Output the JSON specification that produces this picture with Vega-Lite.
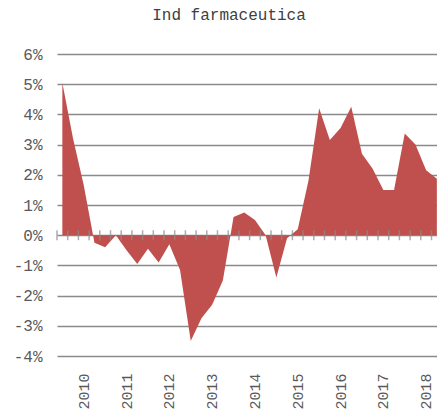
{
  "$schema": "https://vega.github.io/schema/vega-lite/v6.json",
  "width": 380,
  "height": 302,
  "autosize": {"type": "none"},
  "padding": {"left": 57, "top": 54, "right": 0, "bottom": 62},
  "background": "white",
  "title": {"text": "Ind farmaceutica", "font": "Liberation Mono", "fontSize": 16, "fontWeight": "normal", "color": "#404040", "offset": 23, "dx": -18},
  "config": {"view": {"stroke": null}},
  "data": {"values": [
    {"quarter": "2010Q1", "value": 5.05},
    {"quarter": "2010Q2", "value": 3.2},
    {"quarter": "2010Q3", "value": 1.65},
    {"quarter": "2010Q4", "value": -0.25},
    {"quarter": "2011Q1", "value": -0.4},
    {"quarter": "2011Q2", "value": 0.0},
    {"quarter": "2011Q3", "value": -0.5},
    {"quarter": "2011Q4", "value": -0.95},
    {"quarter": "2012Q1", "value": -0.45},
    {"quarter": "2012Q2", "value": -0.9},
    {"quarter": "2012Q3", "value": -0.3},
    {"quarter": "2012Q4", "value": -1.15},
    {"quarter": "2013Q1", "value": -3.5},
    {"quarter": "2013Q2", "value": -2.75},
    {"quarter": "2013Q3", "value": -2.3},
    {"quarter": "2013Q4", "value": -1.5},
    {"quarter": "2014Q1", "value": 0.6},
    {"quarter": "2014Q2", "value": 0.75},
    {"quarter": "2014Q3", "value": 0.5},
    {"quarter": "2014Q4", "value": 0.0},
    {"quarter": "2015Q1", "value": -1.4},
    {"quarter": "2015Q2", "value": -0.1},
    {"quarter": "2015Q3", "value": 0.2},
    {"quarter": "2015Q4", "value": 1.8},
    {"quarter": "2016Q1", "value": 4.2},
    {"quarter": "2016Q2", "value": 3.15},
    {"quarter": "2016Q3", "value": 3.55},
    {"quarter": "2016Q4", "value": 4.25},
    {"quarter": "2017Q1", "value": 2.7},
    {"quarter": "2017Q2", "value": 2.2},
    {"quarter": "2017Q3", "value": 1.5},
    {"quarter": "2017Q4", "value": 1.5},
    {"quarter": "2018Q1", "value": 3.37},
    {"quarter": "2018Q2", "value": 3.0},
    {"quarter": "2018Q3", "value": 2.15},
    {"quarter": "2018Q4", "value": 1.87}
  ]},
  "layer": [
    {
      "mark": {"type": "area", "color": "#C0504D", "opacity": 1},
      "encoding": {
        "x": {
          "field": "quarter", "type": "ordinal", "bandPosition": 0.5,
          "scale": {"type": "band", "paddingInner": 0, "paddingOuter": 0, "range": [0, 385.2]},
          "axis": {
            "title": null, "domain": false, "ticks": false, "grid": false,
            "bandPosition": 0,
            "values": ["2010Q3", "2011Q3", "2012Q3", "2013Q3", "2014Q3", "2015Q3", "2016Q3", "2017Q3", "2018Q3"],
            "labelExpr": "slice(datum.value, 0, 4)",
            "labelAngle": -90, "labelPadding": 17, "labelOverlap": false,
            "labelFont": "Liberation Mono", "labelFontSize": 15, "labelColor": "#595959"
          }
        },
        "y": {
          "field": "value", "type": "quantitative",
          "scale": {"domain": [-4, 6], "nice": false, "zero": true},
          "axis": {
            "title": null, "domain": false, "ticks": false, "tickSize": 0,
            "values": [-4, -3, -2, -1, 0, 1, 2, 3, 4, 5, 6],
            "tickCount": 11,
            "labelOverlap": false,
            "labelExpr": "datum.value + '%'",
            "labelPadding": 15,
            "labelFont": "Liberation Mono", "labelFontSize": 16, "labelColor": "#595959",
            "grid": true, "gridColor": "#8a8a8a", "gridWidth": 1.3
          }
        }
      }
    },
    {
      "mark": {"type": "tick", "orient": "vertical", "color": "#8a8a8a", "size": 10, "thickness": 1.5},
      "encoding": {
        "x": {"field": "quarter", "type": "ordinal", "bandPosition": 0},
        "y": {"datum": 0, "type": "quantitative"}
      }
    }
  ]
}
